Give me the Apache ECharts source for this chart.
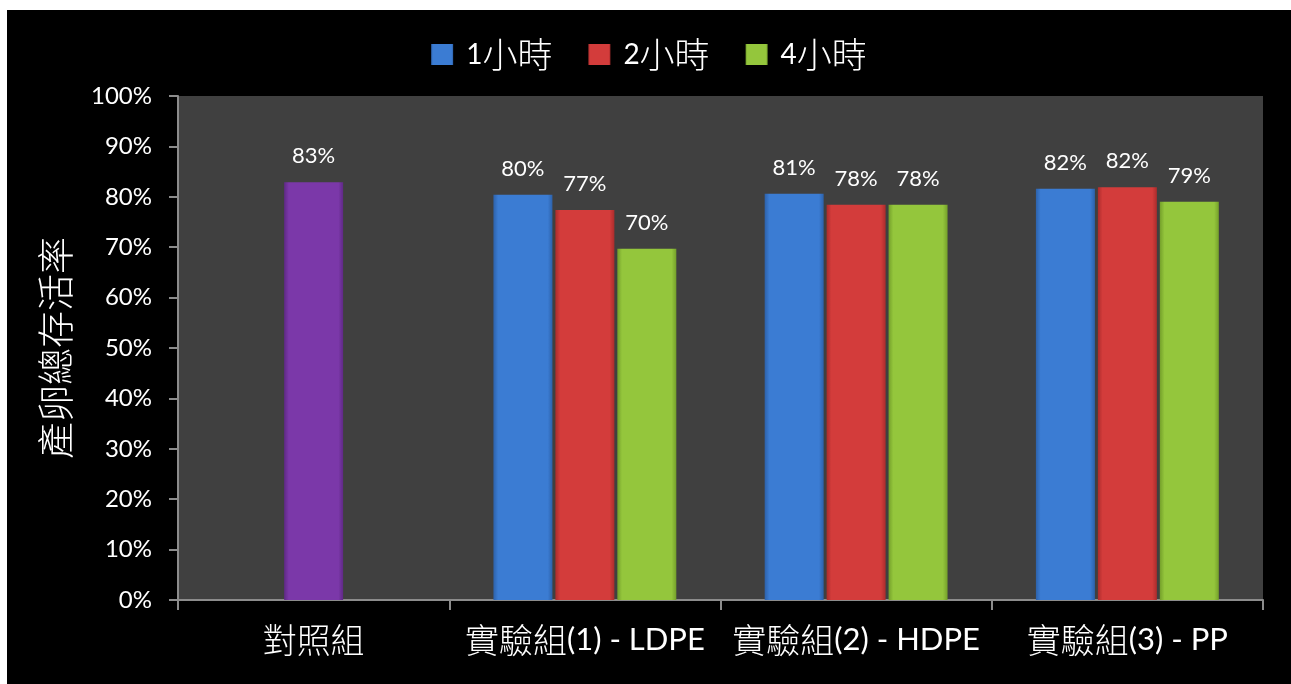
<!DOCTYPE html>
<html>
<head>
<meta charset="utf-8">
<script src="https://cdn.jsdelivr.net/npm/echarts@6/dist/echarts.min.js"></script>
<style>
  html, body { margin: 0; padding: 0; background: #ffffff; width: 1291px; height: 684px; overflow: hidden; }
  #chart { position: absolute; left: 7px; top: 10px; width: 1284px; height: 674px; }
</style>
</head>
<body>
<div id="chart"></div>
<script>
// Survival rate (%) of hatched eggs per group and soaking time
const categories = ['對照組', '實驗組(1) - LDPE', '實驗組(2) - HDPE', '實驗組(3) - PP'];
const seriesNames = ['1小時', '2小時', '4小時'];
const hour1 = [null, 80.4, 80.6, 81.6];
const hour2 = [82.9, 77.4, 78.4, 81.9];
const hour4 = [null, 69.7, 78.4, 79.0];
const yTicks = [0, 10, 20, 30, 40, 50, 60, 70, 80, 90, 100];
const yAxisName = '產卵總存活率';

const LATIN = 'Lato, "Noto Sans", sans-serif';
const CJK = '"Noto Sans CJK TC", "Noto Sans CJK SC", sans-serif';

// Split a label into Han / non-Han runs so each gets its own rich style
function mixed(text) {
  return text.split(/([\u3400-\u9fff]+)/)
    .filter(s => s.length)
    .map(s => (/[\u3400-\u9fff]/.test(s) ? '{c|' + s + '}' : '{l|' + s + '}'))
    .join('');
}
function richStyles(latinSize, cjkSize) {
  return {
    l: { fontFamily: LATIN, fontSize: latinSize, color: '#ffffff' },
    c: { fontFamily: CJK, fontSize: cjkSize, color: '#ffffff', fontWeight: 300 }
  };
}

// Horizontal shading gives each bar a bevelled look
function bevel(mid, edge) {
  return new echarts.graphic.LinearGradient(0, 0, 1, 0, [
    { offset: 0, color: edge },
    { offset: 0.08, color: mid },
    { offset: 0.92, color: mid },
    { offset: 1, color: edge }
  ]);
}

const palette = [
  bevel('#3b7cd3', '#2d62ab'),
  bevel('#d33c3b', '#ac2c2c'),
  bevel('#94c63c', '#74a02a')
];
const controlColor = bevel('#7b38a9', '#5f2986');

const labelCfg = {
  show: true,
  position: 'top',
  distance: 15,
  color: '#ffffff',
  fontSize: 22,
  fontFamily: LATIN,
  formatter: p => (p.value == null ? '' : Math.round(p.value) + '%')
};

const values = [hour1, hour2, hour4];
const series = seriesNames.map((name, i) => ({
  name,
  type: 'bar',
  barWidth: 59,
  barGap: '5%',
  itemStyle: { color: palette[i] },
  label: labelCfg,
  data: values[i].map((v, j) =>
    (i === 1 && j === 0) ? { value: v, itemStyle: { color: controlColor } } : v)
}));

const chart = echarts.init(document.getElementById('chart'));
chart.setOption({
  backgroundColor: '#000000',
  animation: false,
  textStyle: { fontFamily: LATIN },
  legend: {
    top: 22,
    left: 'center',
    itemWidth: 22,
    itemHeight: 21,
    itemGap: 36,
    icon: 'rect',
    formatter: name => mixed(name),
    textStyle: {
      color: '#ffffff',
      padding: [0, 0, 0, 8],
      rich: richStyles(28, 35)
    },
    data: seriesNames
  },
  grid: {
    left: 171,
    right: 28,
    top: 86,
    bottom: 84,
    show: true,
    backgroundColor: '#404040',
    borderWidth: 0
  },
  xAxis: {
    type: 'category',
    data: categories,
    axisLine: { lineStyle: { color: '#8c8c8c', width: 2 } },
    axisTick: { show: true, length: 10, lineStyle: { color: '#8c8c8c', width: 2 } },
    axisLabel: {
      margin: 23,
      formatter: v => mixed(v),
      rich: richStyles(31, 34)
    }
  },
  yAxis: {
    type: 'value',
    min: yTicks[0],
    max: yTicks[yTicks.length - 1],
    interval: 10,
    name: yAxisName,
    nameLocation: 'middle',
    nameRotate: 90,
    nameGap: 104,
    nameTextStyle: { color: '#ffffff', fontSize: 37, fontFamily: CJK, fontWeight: 300 },
    axisLine: { show: true, lineStyle: { color: '#8c8c8c', width: 2 } },
    axisTick: { show: true, length: 9, lineStyle: { color: '#8c8c8c', width: 2 } },
    splitLine: { show: false },
    axisLabel: { color: '#ffffff', fontSize: 24, margin: 26, fontFamily: LATIN, formatter: '{value}%' }
  },
  series
});
</script>
</body>
</html>
